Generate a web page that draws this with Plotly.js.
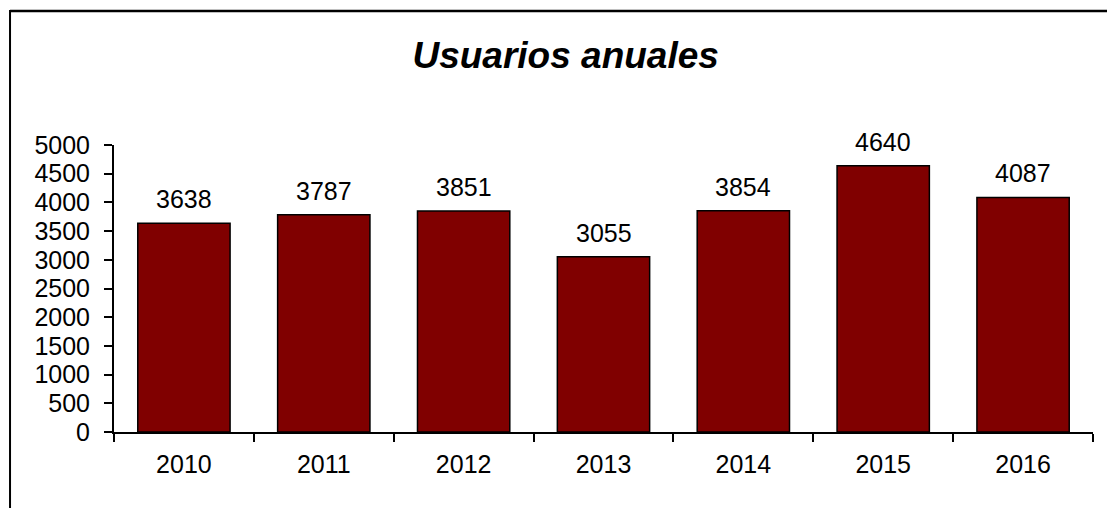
<!DOCTYPE html>
<html><head><meta charset="utf-8">
<script src="https://cdn.plot.ly/plotly-3.0.1.min.js"></script>
<style>html,body{margin:0;padding:0;background:#fff;}#chart{width:1107px;height:508px;}</style>
</head><body><div id="chart"></div>
<script>
const years = ['2010','2011','2012','2013','2014','2015','2016'];
const users = [3638, 3787, 3851, 3055, 3854, 4640, 4087];
const yTicks = [0,500,1000,1500,2000,2500,3000,3500,4000,4500,5000];

const font = 'Liberation Sans, Arial, sans-serif';
const trace = {
  type: 'bar', x: years, y: users,
  marker: {color: '#800000', line: {color: '#000000', width: 1.5}},
  hoverinfo: 'skip'
};
const annotations = years.map((yr, i) => ({
  x: i, y: users[i], xref: 'x', yref: 'y', text: String(users[i]),
  showarrow: false, yanchor: 'bottom', yshift: 8,
  font: {family: font, size: 25, color: '#000'}
}));
const layout = {
  width: 1107, height: 508,
  margin: {l: 114, r: 14, t: 145, b: 76},
  paper_bgcolor: '#fff', plot_bgcolor: '#fff',
  bargap: 0.34,
  showlegend: false,
  title: {text: '<b><i>Usuarios anuales</i></b>', x: 0.511, xanchor: 'center', y: 0.891, yanchor: 'middle',
          font: {family: font, size: 37, color: '#000'}},
  xaxis: {type: 'category', range: [-0.5, years.length - 0.5], autorange: false,
          showline: true, linecolor: '#000', linewidth: 2,
          ticks: 'outside', tickson: 'boundaries', ticklen: 8, tickwidth: 2, tickcolor: '#000', tickangle: 0,
          ticklabelstandoff: 9,
          tickfont: {family: font, size: 25, color: '#000'}, showgrid: false, zeroline: false},
  yaxis: {range: [0, 5000], autorange: false, tickvals: yTicks, showline: true, linecolor: '#000', linewidth: 2,
          ticks: 'outside', ticklen: 8, tickwidth: 2, tickcolor: '#000', ticklabelstandoff: 9,
          tickfont: {family: font, size: 25, color: '#000'}, showgrid: false, zeroline: false},
  annotations: annotations,
  shapes: [
    {type: 'line', xref: 'paper', yref: 'paper', x0: -0.1062, x1: -0.1062, y0: -0.3, y1: 1.47, line: {color: '#000', width: 2}},
    {type: 'line', xref: 'paper', yref: 'paper', x0: -0.1062, x1: 1.1, y0: 1.467, y1: 1.467, line: {color: '#000', width: 2.5}}
  ]
};
Plotly.newPlot('chart', [trace], layout, {displayModeBar: false, staticPlot: true});
</script></body></html>
